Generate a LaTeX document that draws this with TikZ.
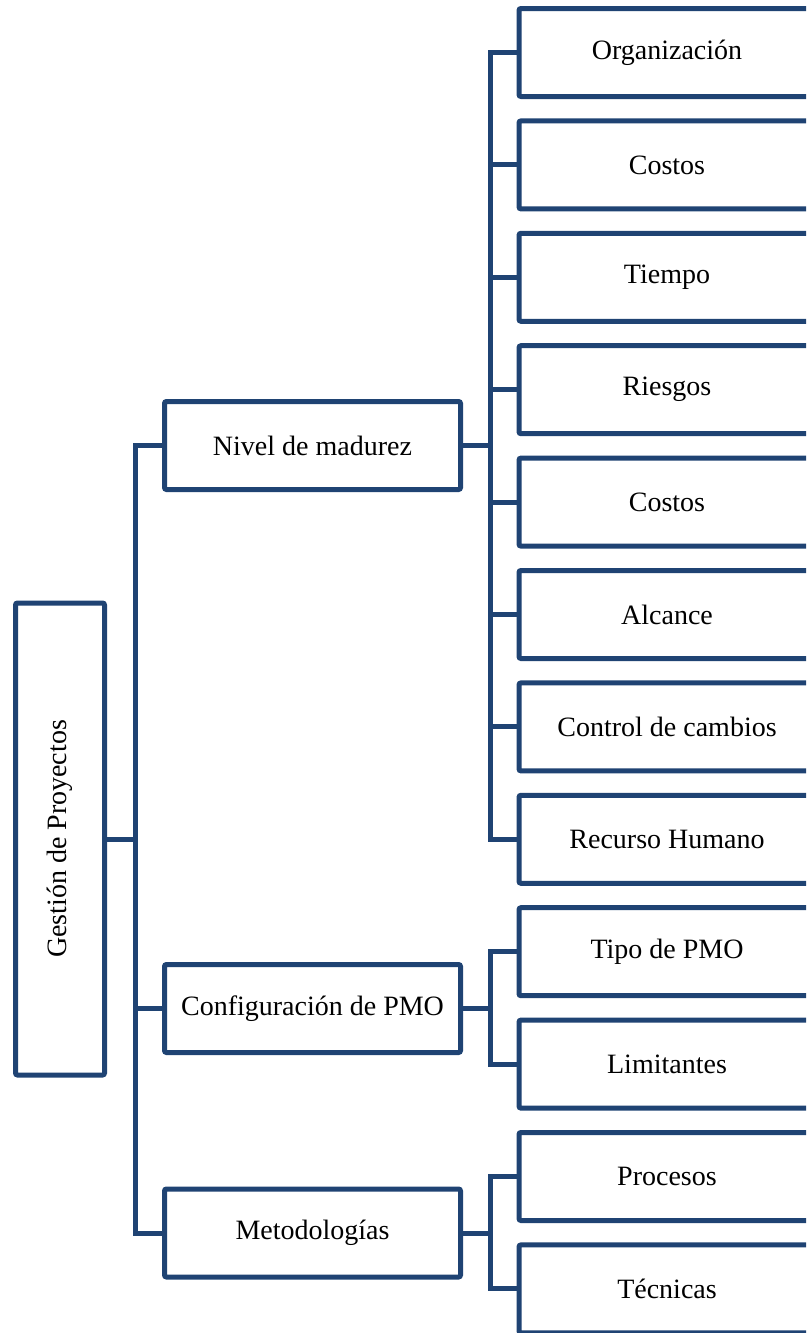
\documentclass[tikz,border=0pt]{standalone}
\usepackage{fontspec}
\setmainfont{Liberation Serif}
\definecolor{navy}{HTML}{1F4373}
\begin{document}
\begin{tikzpicture}[x=1pt,y=-1pt,
  lbl/.style={font=\fontsize{28}{32}\selectfont},
  box/.style={draw=navy, line width=5pt, rounded corners=2pt, fill=white,
    lbl, inner sep=0pt, outer sep=0pt},
  rootbox/.style={box, minimum width=89pt, minimum height=472pt},
  midbox/.style={box, minimum width=296pt, minimum height=88pt},
  leafbox/.style={box, minimum width=296pt, minimum height=88pt},
  conn/.style={draw=navy, line width=5pt, line join=miter}]
\useasboundingbox (0,0) rectangle (806,1333);
\clip (0,0) rectangle (806,1333);

% root
\node[rootbox] (root) at (60,839) {};
\node[rotate=90, lbl] (roottext) at (60,839) {Gestión de Proyectos};

% second level
\node[midbox] (niv) at (312.5,445.5) {Nivel de madurez};
\node[midbox] (pmo) at (312.5,1008.5) {Configuración de PMO};
\node[midbox] (met) at (312.5,1233) {Metodologías};

% leaves
\foreach \n/\y/\t in {l1/52.5/Organización, l2/164.9/Costos, l3/277.3/Tiempo,
    l4/389.7/Riesgos, l5/502.1/Costos, l6/614.5/Alcance,
    l7/726.9/Control de cambios, l8/839.3/Recurso Humano,
    l9/951.7/Tipo de PMO, l10/1064.1/Limitantes,
    l11/1176.5/Procesos, l12/1288.9/Técnicas}
  \node[leafbox] (\n) at (667,\y) {\t};

% connectors: root to second level
\foreach \m in {niv,pmo,met}
  \draw[conn] (root.east) -- ++(30.5,0) |- (\m.west);

% connectors: second level to leaves
\foreach \l in {l1,l2,l3,l4,l5,l6,l7,l8}
  \draw[conn] (niv.east) -- ++(29.5,0) |- (\l.west);
\foreach \l in {l9,l10}
  \draw[conn] (pmo.east) -- ++(29.5,0) |- (\l.west);
\foreach \l in {l11,l12}
  \draw[conn] (met.east) -- ++(29.5,0) |- (\l.west);
\end{tikzpicture}
\end{document}
